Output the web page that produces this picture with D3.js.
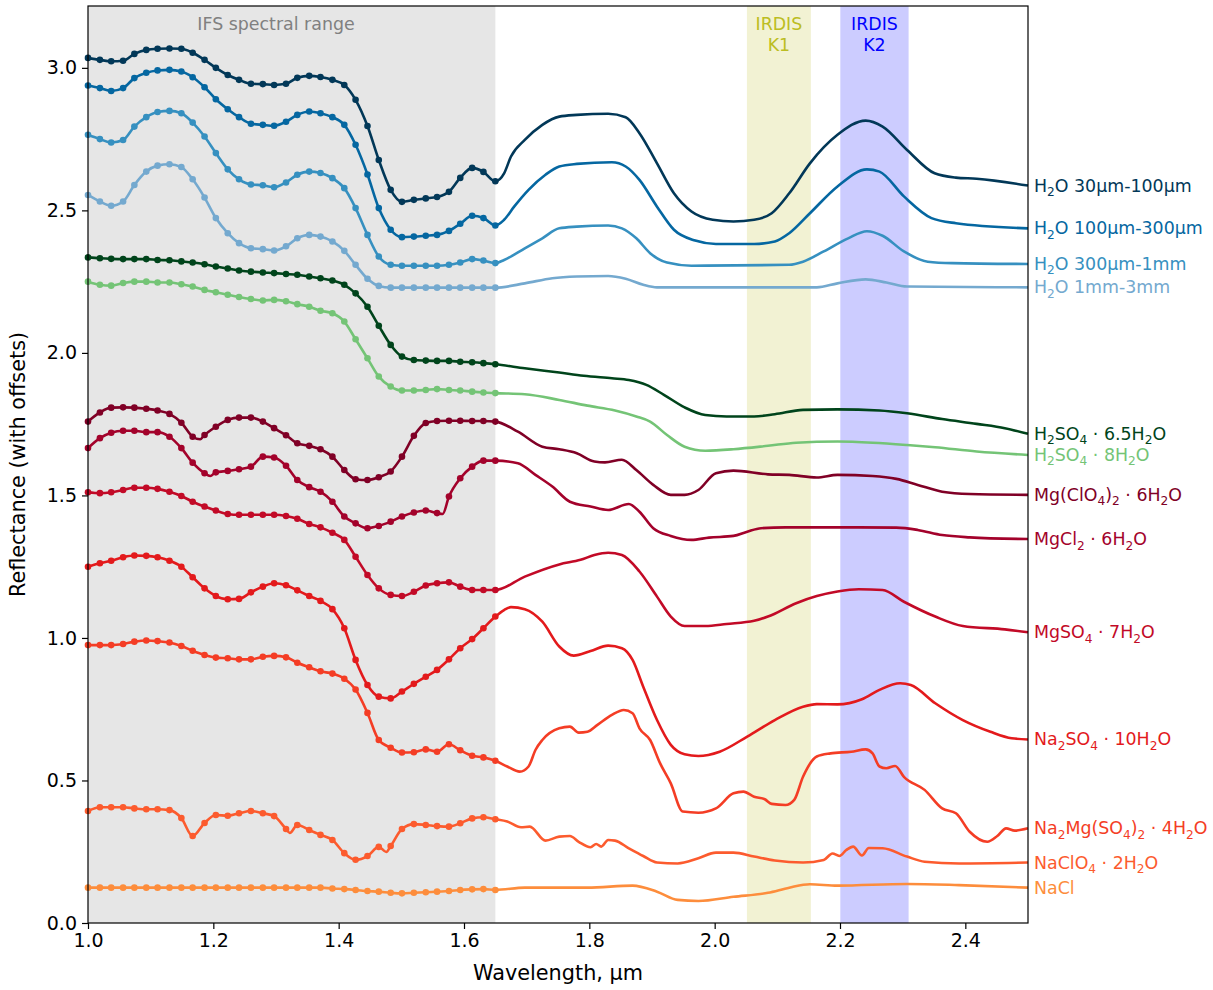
<!DOCTYPE html>
<html>
<head>
<meta charset="utf-8">
<script src="https://cdn.jsdelivr.net/npm/d3@7"></script>
<style>
  body { margin: 0; background: #fff; }
  text { font-family: "DejaVu Sans", sans-serif; }
</style>
</head>
<body>
<div id="chart"></div>
<script>

// IFS channel wavelengths (um)
var ifsWl = [1.000,1.019,1.037,1.056,1.074,1.093,1.111,1.130,1.149,1.167,1.186,1.204,
             1.223,1.241,1.260,1.279,1.297,1.316,1.334,1.353,1.371,1.390,1.409,1.427,
             1.446,1.464,1.483,1.501,1.520,1.539,1.557,1.576,1.594,1.613,1.631,1.650];

// reflectance (with offsets) sampled at the IFS channels
var h2o30 = [3.035,3.028,3.023,3.025,3.049,3.063,3.067,3.068,3.067,3.053,3.028,3.000,2.975,2.958,2.944,2.943,2.940,2.944,
             2.965,2.972,2.968,2.958,2.940,2.888,2.796,2.677,2.572,2.530,2.537,2.542,2.547,2.565,2.614,2.649,2.635,2.602];
var h2o100 = [2.938,2.929,2.919,2.929,2.964,2.983,2.991,2.993,2.987,2.967,2.932,2.890,2.855,2.827,2.804,2.800,2.797,2.811,
              2.835,2.847,2.841,2.827,2.800,2.730,2.626,2.508,2.432,2.406,2.408,2.411,2.414,2.428,2.453,2.481,2.473,2.447];
var h2o300 = [2.765,2.750,2.738,2.747,2.794,2.827,2.845,2.849,2.841,2.808,2.759,2.701,2.644,2.609,2.591,2.588,2.581,2.598,
              2.625,2.636,2.631,2.613,2.578,2.508,2.414,2.338,2.309,2.306,2.306,2.306,2.306,2.309,2.317,2.329,2.324,2.315];
var h2o1mm = [2.554,2.531,2.516,2.531,2.589,2.636,2.657,2.662,2.652,2.609,2.545,2.473,2.420,2.385,2.367,2.364,2.359,2.374,
              2.402,2.414,2.408,2.391,2.358,2.309,2.260,2.235,2.229,2.229,2.229,2.229,2.229,2.229,2.229,2.229,2.229,2.229];
var h2so4a = [2.335,2.332,2.330,2.329,2.329,2.329,2.326,2.325,2.321,2.317,2.311,2.303,2.296,2.289,2.285,2.282,2.280,2.277,
              2.274,2.268,2.262,2.254,2.239,2.209,2.162,2.095,2.028,1.987,1.975,1.973,1.972,1.972,1.969,1.967,1.964,1.960];
var h2so4b = [2.250,2.239,2.236,2.245,2.250,2.250,2.247,2.247,2.241,2.233,2.221,2.213,2.204,2.196,2.189,2.184,2.186,2.181,
              2.171,2.162,2.148,2.139,2.110,2.048,1.981,1.917,1.882,1.868,1.868,1.870,1.873,1.870,1.868,1.864,1.861,1.859];
var mgclo4 = [1.759,1.791,1.808,1.809,1.808,1.804,1.798,1.786,1.755,1.706,1.712,1.741,1.765,1.773,1.773,1.759,1.736,1.711,
              1.683,1.674,1.662,1.636,1.589,1.557,1.554,1.564,1.584,1.636,1.709,1.754,1.761,1.762,1.762,1.761,1.761,1.759];
var mgcl2 = [1.666,1.701,1.720,1.727,1.727,1.722,1.722,1.706,1.666,1.615,1.578,1.581,1.586,1.592,1.601,1.636,1.633,1.604,
             1.554,1.529,1.513,1.478,1.426,1.402,1.385,1.393,1.408,1.426,1.440,1.447,1.438,1.496,1.560,1.601,1.622,1.622];
var mgso4 = [1.511,1.508,1.511,1.519,1.527,1.527,1.523,1.513,1.498,1.478,1.461,1.447,1.435,1.432,1.432,1.432,1.432,1.428,
             1.418,1.400,1.388,1.369,1.344,1.285,1.221,1.174,1.151,1.147,1.162,1.184,1.192,1.195,1.180,1.168,1.168,1.168];
var na2so4 = [1.250,1.262,1.271,1.283,1.289,1.288,1.283,1.271,1.250,1.213,1.174,1.147,1.136,1.137,1.160,1.180,1.192,1.185,
              1.167,1.147,1.130,1.101,1.034,0.923,0.835,0.794,0.788,0.812,0.839,0.864,0.888,0.925,0.964,0.996,1.034,1.075];
var na2mg = [0.975,0.975,0.975,0.979,0.987,0.991,0.989,0.984,0.972,0.955,0.940,0.931,0.929,0.925,0.925,0.934,0.937,0.932,
             0.913,0.897,0.883,0.875,0.857,0.819,0.737,0.642,0.615,0.598,0.599,0.609,0.601,0.627,0.606,0.587,0.581,0.569];
var naclo4 = [0.393,0.406,0.406,0.406,0.402,0.399,0.399,0.396,0.368,0.305,0.351,0.379,0.376,0.385,0.393,0.385,0.375,0.330,
              0.344,0.326,0.309,0.291,0.245,0.222,0.235,0.267,0.270,0.330,0.347,0.344,0.340,0.338,0.350,0.367,0.371,0.364];
var nacl = [0.124,0.124,0.124,0.124,0.124,0.124,0.124,0.124,0.124,0.124,0.124,0.124,0.124,0.124,0.124,0.124,0.124,0.124,
            0.124,0.124,0.124,0.121,0.119,0.116,0.112,0.110,0.106,0.104,0.106,0.108,0.110,0.112,0.116,0.118,0.119,0.116];

// full-resolution spectrum points [wavelength, reflectance] beyond the channel samples
var h2o30Ext = [[1.664,2.630],[1.675,2.689],[1.697,2.747],[1.725,2.800],[1.752,2.829],[1.780,2.835],[1.830,2.839],
  [1.858,2.827],[1.880,2.771],[1.908,2.665],[1.935,2.560],[1.963,2.496],[1.997,2.467],[2.030,2.461],[2.063,2.467],
  [2.091,2.490],[2.119,2.560],[2.152,2.665],[2.196,2.765],[2.241,2.815],[2.268,2.794],[2.307,2.712],[2.351,2.630],
  [2.385,2.615],[2.418,2.611],[2.500,2.587]];
var h2o100Ext = [[1.664,2.467],[1.680,2.513],[1.703,2.572],[1.730,2.625],[1.752,2.654],[1.780,2.663],[1.836,2.669],
  [1.858,2.654],[1.880,2.607],[1.908,2.513],[1.935,2.432],[1.969,2.394],[2.002,2.382],[2.063,2.382],[2.096,2.391],
  [2.119,2.420],[2.152,2.490],[2.196,2.584],[2.243,2.644],[2.263,2.636],[2.302,2.549],[2.346,2.473],[2.385,2.455],
  [2.500,2.437]];
var h2o300Ext = [[1.664,2.326],[1.697,2.367],[1.725,2.402],[1.752,2.437],[1.780,2.443],[1.830,2.447],[1.852,2.437],
  [1.875,2.402],[1.897,2.350],[1.924,2.317],[1.963,2.306],[2.119,2.309],[2.141,2.320],[2.174,2.356],[2.213,2.402],
  [2.243,2.427],[2.268,2.411],[2.302,2.356],[2.340,2.320],[2.379,2.315],[2.500,2.312]];
var h2o1mmExt = [[1.697,2.244],[1.741,2.262],[1.780,2.268],[1.830,2.270],[1.858,2.260],[1.886,2.239],[1.908,2.230],
  [2.163,2.230],[2.196,2.244],[2.241,2.258],[2.274,2.247],[2.307,2.233],[2.500,2.230]];
var h2so4aExt = [[1.697,1.946],[1.752,1.931],[1.791,1.920],[1.836,1.911],[1.863,1.905],[1.891,1.888],[1.919,1.853],
  [1.952,1.809],[1.985,1.782],[2.019,1.777],[2.063,1.777],[2.096,1.785],[2.141,1.800],[2.196,1.802],[2.263,1.798],
  [2.307,1.788],[2.363,1.768],[2.418,1.751],[2.463,1.736],[2.500,1.716]];
var h2so4bExt = [[1.697,1.855],[1.752,1.835],[1.797,1.815],[1.841,1.798],[1.875,1.777],[1.897,1.759],[1.924,1.712],
  [1.952,1.671],[1.985,1.657],[2.030,1.662],[2.085,1.674],[2.130,1.685],[2.196,1.689],[2.252,1.685],[2.307,1.677],
  [2.352,1.669],[2.418,1.654],[2.500,1.642]];
var mgclo4Ext = [[1.179,1.697],[1.686,1.724],[1.725,1.671],[1.752,1.662],[1.780,1.648],[1.808,1.619],[1.825,1.616],
  [1.852,1.625],[1.875,1.589],[1.902,1.537],[1.930,1.502],[1.952,1.502],[1.974,1.519],[2.002,1.578],[2.030,1.587],
  [2.085,1.574],[2.119,1.572],[2.163,1.563],[2.196,1.572],[2.252,1.568],[2.290,1.558],[2.324,1.537],[2.363,1.513],
  [2.407,1.505],[2.500,1.502]];
var mgcl2Ext = [[1.195,1.568],[1.566,1.435],[1.686,1.613],[1.714,1.572],[1.741,1.531],[1.769,1.478],[1.802,1.461],
  [1.830,1.449],[1.863,1.470],[1.880,1.443],[1.902,1.385],[1.930,1.358],[1.963,1.344],[1.991,1.352],[2.030,1.358],
  [2.052,1.373],[2.074,1.385],[2.113,1.388],[2.196,1.388],[2.290,1.387],[2.324,1.379],[2.363,1.361],[2.407,1.353],
  [2.500,1.347]];
var mgso4Ext = [[1.697,1.215],[1.752,1.258],[1.786,1.274],[1.808,1.291],[1.830,1.299],[1.852,1.291],[1.880,1.233],
  [1.908,1.145],[1.930,1.075],[1.952,1.042],[1.985,1.042],[2.019,1.049],[2.063,1.060],[2.085,1.075],[2.130,1.122],
  [2.163,1.147],[2.196,1.163],[2.230,1.171],[2.268,1.168],[2.302,1.127],[2.352,1.075],[2.396,1.042],[2.463,1.030],
  [2.500,1.020]];
var na2so4Ext = [[1.664,1.098],[1.675,1.108],[1.697,1.101],[1.725,1.057],[1.752,0.970],[1.775,0.938],[1.802,0.954],
  [1.830,0.973],[1.852,0.964],[1.869,0.923],[1.886,0.829],[1.908,0.712],[1.930,0.625],[1.952,0.592],[1.974,0.586],
  [2.008,0.601],[2.052,0.654],[2.096,0.712],[2.141,0.759],[2.163,0.768],[2.196,0.767],[2.235,0.785],[2.263,0.818],
  [2.296,0.841],[2.313,0.835],[2.352,0.771],[2.396,0.712],[2.440,0.671],[2.474,0.648],[2.500,0.644]];
var na2mgExt = [[1.669,0.549],[1.689,0.531],[1.703,0.549],[1.714,0.607],[1.725,0.642],[1.752,0.683],[1.769,0.689],
  [1.783,0.668],[1.797,0.671],[1.813,0.695],[1.836,0.730],[1.855,0.747],[1.869,0.736],[1.880,0.683],[1.897,0.642],
  [1.913,0.560],[1.930,0.490],[1.949,0.391],[1.974,0.387],[2.002,0.402],[2.030,0.455],[2.046,0.461],[2.063,0.443],
  [2.080,0.434],[2.091,0.418],[2.113,0.414],[2.127,0.432],[2.141,0.513],[2.163,0.584],[2.185,0.595],[2.218,0.601],
  [2.241,0.609],[2.252,0.595],[2.263,0.549],[2.274,0.543],[2.288,0.551],[2.302,0.513],[2.335,0.467],[2.363,0.402],
  [2.385,0.385],[2.407,0.320],[2.435,0.285],[2.451,0.305],[2.465,0.332],[2.479,0.324],[2.500,0.332]];
var naclo4Ext = [[1.322,0.316],[1.476,0.249],[1.669,0.356],[1.691,0.336],[1.705,0.338],[1.730,0.289],[1.752,0.303],
  [1.769,0.305],[1.783,0.285],[1.802,0.266],[1.811,0.277],[1.819,0.268],[1.830,0.291],[1.841,0.289],[1.863,0.262],
  [1.886,0.235],[1.908,0.212],[1.941,0.209],[1.974,0.227],[2.002,0.247],[2.030,0.247],[2.063,0.233],[2.096,0.219],
  [2.141,0.212],[2.174,0.221],[2.188,0.244],[2.199,0.235],[2.210,0.256],[2.221,0.268],[2.235,0.237],[2.246,0.263],
  [2.268,0.262],[2.307,0.233],[2.335,0.215],[2.390,0.209],[2.500,0.212]];
var naclExt = [[1.697,0.124],[1.797,0.124],[1.869,0.131],[1.908,0.110],[1.941,0.081],[1.974,0.077],[2.030,0.092],
  [2.085,0.106],[2.119,0.124],[2.152,0.136],[2.196,0.131],[2.307,0.137],[2.390,0.133],[2.500,0.124]];

// labels ({..} marks a subscript)
var labels = ["H{2}O 30µm-100µm", "H{2}O 100µm-300µm", "H{2}O 300µm-1mm", "H{2}O 1mm-3mm",
  "H{2}SO{4} · 6.5H{2}O", "H{2}SO{4} · 8H{2}O", "Mg(ClO{4}){2} · 6H{2}O", "MgCl{2} · 6H{2}O",
  "MgSO{4} · 7H{2}O", "Na{2}SO{4} · 10H{2}O", "Na{2}Mg(SO{4}){2} · 4H{2}O", "NaClO{4} · 2H{2}O", "NaCl"];
var colors = ["#023858", "#0567a1", "#3690c0", "#74a9cf", "#00441b", "#74c476",
  "#800026", "#a3022b", "#c20a27", "#e31a1c", "#f43d25", "#fc5b2e", "#fd8d3c"];
var samples = [h2o30, h2o100, h2o300, h2o1mm, h2so4a, h2so4b, mgclo4, mgcl2, mgso4, na2so4, na2mg, naclo4, nacl];
var extras = [h2o30Ext, h2o100Ext, h2o300Ext, h2o1mmExt, h2so4aExt, h2so4bExt, mgclo4Ext, mgcl2Ext, mgso4Ext,
  na2so4Ext, na2mgExt, naclo4Ext, naclExt];

var xTicks = [1.0, 1.2, 1.4, 1.6, 1.8, 2.0, 2.2, 2.4];
var yTicks = [0.0, 0.5, 1.0, 1.5, 2.0, 2.5, 3.0];

// shaded ranges
var ifsRange = [1.0, 1.65];
var k1Range = [2.0515, 2.1535];
var k2Range = [2.2005, 2.3095];

var w = 1213, h = 990;
var margin = {left: 88, top: 6, right: 185, bottom: 67};
var pw = w - margin.left - margin.right;
var ph = h - margin.top - margin.bottom;
var fs = 17.4;      // annotations
var fsTick = 19;    // tick labels
var fsAxis = 20.8;  // axis titles

var svg = d3.select("#chart").append("svg")
  .attr("width", w).attr("height", h);

var g = svg.append("g")
  .attr("transform", "translate(" + margin.left + "," + margin.top + ")");

var xScale = d3.scaleLinear().domain([1.0, 2.5]).range([0, pw]);
var yScale = d3.scaleLinear().domain([0, 3.217]).range([ph, 0]);

// bands
function band(r, fill, op) {
  g.append("rect")
    .attr("x", xScale(r[0])).attr("y", 0)
    .attr("width", xScale(r[1]) - xScale(r[0])).attr("height", ph)
    .attr("fill", fill).attr("fill-opacity", op);
}
band(ifsRange, "#808080", 0.2);
band(k1Range, "#bcbd22", 0.2);
band(k2Range, "#0000ff", 0.2);

g.append("text")
  .attr("x", xScale(1.3)).attr("y", 24)
  .attr("text-anchor", "middle").attr("font-size", fs)
  .attr("fill", "#808080").text("IFS spectral range");

[[k1Range, "#bcbd22", "K1"], [k2Range, "#0000ff", "K2"]].forEach(function(b) {
  var cx = xScale((b[0][0] + b[0][1]) / 2);
  g.append("text").attr("x", cx).attr("y", 24)
    .attr("text-anchor", "middle").attr("font-size", fs)
    .attr("fill", b[1]).text("IRDIS");
  g.append("text").attr("x", cx).attr("y", 45)
    .attr("text-anchor", "middle").attr("font-size", fs)
    .attr("fill", b[1]).text(b[2]);
});

var line = d3.line()
  .x(function(d) { return xScale(d[0]); })
  .y(function(d) { return yScale(d[1]); })
  .curve(d3.curveMonotoneX);

samples.forEach(function(vals, i) {
  var pts = ifsWl.map(function(wl, j) { return [wl, vals[j]]; });
  var full = pts.concat(extras[i]).sort(function(a, b) { return a[0] - b[0]; });

  g.append("path")
    .attr("d", line(full))
    .attr("fill", "none")
    .attr("stroke", colors[i])
    .attr("stroke-width", 2.6)
    .attr("stroke-linejoin", "round");

  g.selectAll(null)
    .data(pts)
    .enter()
    .append("circle")
    .attr("cx", function(d) { return xScale(d[0]); })
    .attr("cy", function(d) { return yScale(d[1]); })
    .attr("r", 3.3)
    .attr("fill", colors[i]);

  // label at the end of the spectrum
  var last = full[full.length - 1];
  var t = g.append("text")
    .attr("x", pw + 6)
    .attr("y", yScale(last[1]) + 6)
    .attr("font-size", fs)
    .attr("fill", colors[i]);
  var parts = labels[i].split(/(\{[^}]*\})/);
  var shifted = false;
  parts.forEach(function(p) {
    if (!p) return;
    if (p[0] === "{") {
      t.append("tspan").attr("font-size", fs * 0.7).attr("dy", 4.5).text(p.slice(1, -1));
      shifted = true;
    } else {
      var s = t.append("tspan").text(p);
      if (shifted) { s.attr("dy", -4.5); shifted = false; }
    }
  });
});

// axes
var xAxis = d3.axisBottom(xScale).tickValues(xTicks)
  .tickFormat(d3.format(".1f")).tickSizeOuter(0).tickSize(6).tickPadding(5);
var yAxis = d3.axisLeft(yScale).tickValues(yTicks)
  .tickFormat(d3.format(".1f")).tickSizeOuter(0).tickSize(6).tickPadding(5);

var gx = g.append("g").attr("transform", "translate(0," + ph + ")").call(xAxis);
var gy = g.append("g").call(yAxis);
[gx, gy].forEach(function(a) {
  a.select(".domain").remove();
  a.selectAll("text").attr("font-size", fsTick).attr("font-family", "DejaVu Sans").attr("fill", "#000");
  a.selectAll("line").attr("stroke", "#000").attr("stroke-width", 1.2);
});

g.append("rect")
  .attr("width", pw).attr("height", ph)
  .attr("fill", "none").attr("stroke", "#000").attr("stroke-width", 1.2);

svg.append("text")
  .attr("x", margin.left + pw / 2).attr("y", h - 10)
  .attr("text-anchor", "middle").attr("font-size", fsAxis)
  .text("Wavelength, µm");

svg.append("text")
  .attr("transform", "translate(25," + (margin.top + ph / 2) + ")rotate(-90)")
  .attr("text-anchor", "middle").attr("font-size", fsAxis)
  .text("Reflectance (with offsets)");
</script>
</body>
</html>
